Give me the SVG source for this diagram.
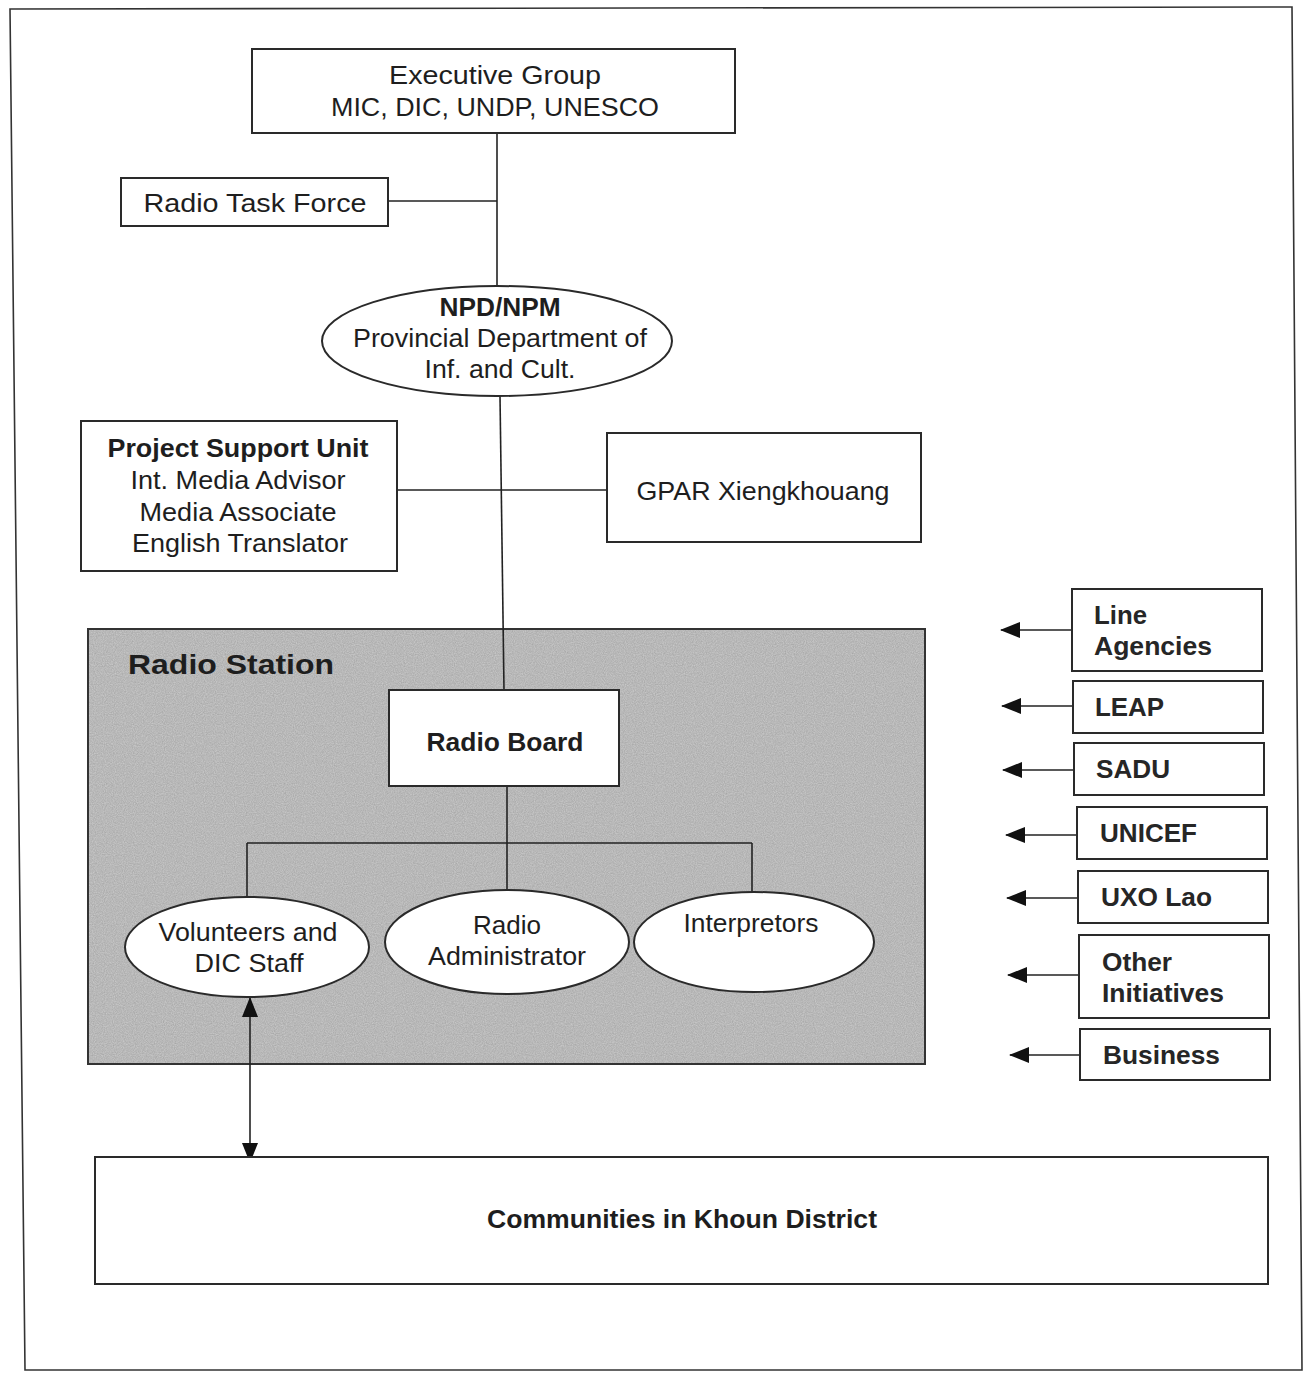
<svg xmlns="http://www.w3.org/2000/svg" width="1303" height="1373" viewBox="0 0 1303 1373">
<style>
  .box { fill: #ffffff; stroke: #2a2a2a; stroke-width: 2; }
  .frame { fill: none; stroke: #333333; stroke-width: 1.6; }
  .ln { stroke: #222222; stroke-width: 1.6; fill: none; }
  .t { font-family: "Liberation Sans", Arial, sans-serif; font-size: 25px; fill: #1e1e1e; text-anchor: middle; }
  .b { font-weight: bold; }
  .r { font-family: "Liberation Sans", Arial, sans-serif; font-size: 25px; font-weight: bold; fill: #262626; }
</style>
<defs>
  <marker id="ah" viewBox="0 0 20 16" refX="19" refY="8" markerWidth="20" markerHeight="16" markerUnits="userSpaceOnUse" orient="auto-start-reverse">
    <path d="M0,0 L20,8 L0,16 Z" fill="#111111"/>
  </marker>
  <filter id="noise" x="0" y="0" width="100%" height="100%">
    <feTurbulence type="fractalNoise" baseFrequency="0.9" numOctaves="2" seed="3" result="n"/>
    <feColorMatrix in="n" type="matrix" values="0 0 0 0 0  0 0 0 0 0  0 0 0 0 0  0 0 0 0.5 0" result="a"/>
    <feComposite in="a" in2="SourceGraphic" operator="in"/>
  </filter>
</defs>
<rect width="1303" height="1373" fill="#ffffff"/>

<g id="frame">
  <path class="frame" d="M10,9 L1292,7 L1302,1370 L25,1370 Z"/>
</g>

<g id="radio-station">
  <rect x="88" y="629" width="837" height="435" fill="#cdcdcd" stroke="#333" stroke-width="2"/>
  <rect x="89" y="630" width="835" height="433" fill="#ffffff" filter="url(#noise)" opacity="0.4"/>
  <text class="t b" x="128" y="674" style="text-anchor:start;font-size:28px" textLength="206" lengthAdjust="spacingAndGlyphs">Radio Station</text>
</g>

<g id="connectors">
  <line class="ln" x1="497" y1="133" x2="497" y2="287"/>
  <line class="ln" x1="388" y1="201" x2="497" y2="201"/>
  <line class="ln" x1="500" y1="396" x2="504" y2="690"/>
  <line class="ln" x1="397" y1="490" x2="607" y2="490"/>
  <line class="ln" x1="507" y1="786" x2="507" y2="891"/>
  <line class="ln" x1="247" y1="843" x2="752" y2="843"/>
  <line class="ln" x1="247" y1="843" x2="247" y2="898"/>
  <line class="ln" x1="752" y1="843" x2="752" y2="893"/>
  <line class="ln" x1="250" y1="998" x2="250" y2="1162" marker-start="url(#ah)" marker-end="url(#ah)"/>
  <line class="ln" x1="1072" y1="630" x2="1001" y2="630" marker-end="url(#ah)"/>
  <line class="ln" x1="1073" y1="706" x2="1002" y2="706" marker-end="url(#ah)"/>
  <line class="ln" x1="1074" y1="770" x2="1003" y2="770" marker-end="url(#ah)"/>
  <line class="ln" x1="1077" y1="835" x2="1006" y2="835" marker-end="url(#ah)"/>
  <line class="ln" x1="1078" y1="898" x2="1007" y2="898" marker-end="url(#ah)"/>
  <line class="ln" x1="1079" y1="975" x2="1008" y2="975" marker-end="url(#ah)"/>
  <line class="ln" x1="1080" y1="1055" x2="1010" y2="1055" marker-end="url(#ah)"/>
</g>

<g id="executive-group">
  <rect class="box" x="252" y="49" width="483" height="84"/>
  <text class="t" x="495" y="84" textLength="212" lengthAdjust="spacingAndGlyphs">Executive Group</text>
  <text class="t" x="495" y="116" textLength="328" lengthAdjust="spacingAndGlyphs">MIC, DIC, UNDP, UNESCO</text>
</g>

<g id="radio-task-force">
  <rect class="box" x="121" y="178" width="267" height="48"/>
  <text class="t" x="255" y="212" textLength="223" lengthAdjust="spacingAndGlyphs">Radio Task Force</text>
</g>

<g id="npd-npm">
  <ellipse class="box" cx="497" cy="341" rx="175" ry="55"/>
  <text class="t b" x="500" y="316" textLength="121" lengthAdjust="spacingAndGlyphs">NPD/NPM</text>
  <text class="t" x="500" y="347" textLength="294" lengthAdjust="spacingAndGlyphs">Provincial Department of</text>
  <text class="t" x="500" y="378" textLength="151" lengthAdjust="spacingAndGlyphs">Inf. and Cult.</text>
</g>

<g id="project-support-unit">
  <rect class="box" x="81" y="421" width="316" height="150"/>
  <text class="t b" x="238" y="457" textLength="261" lengthAdjust="spacingAndGlyphs">Project Support Unit</text>
  <text class="t" x="238" y="489" textLength="215" lengthAdjust="spacingAndGlyphs">Int. Media Advisor</text>
  <text class="t" x="238" y="521" textLength="197" lengthAdjust="spacingAndGlyphs">Media Associate</text>
  <text class="t" x="240" y="552" textLength="216" lengthAdjust="spacingAndGlyphs">English Translator</text>
</g>

<g id="gpar">
  <rect class="box" x="607" y="433" width="314" height="109"/>
  <text class="t" x="763" y="500" textLength="253" lengthAdjust="spacingAndGlyphs">GPAR Xiengkhouang</text>
</g>

<g id="radio-board">
  <rect class="box" x="389" y="690" width="230" height="96"/>
  <text class="t" x="505" y="751" style="font-weight:600" textLength="157" lengthAdjust="spacingAndGlyphs">Radio Board</text>
</g>

<g id="volunteers">
  <ellipse class="box" cx="247" cy="947" rx="122" ry="50"/>
  <text class="t" x="248" y="941" textLength="179" lengthAdjust="spacingAndGlyphs">Volunteers and</text>
  <text class="t" x="249" y="972" textLength="109" lengthAdjust="spacingAndGlyphs">DIC Staff</text>
</g>

<g id="radio-administrator">
  <ellipse class="box" cx="507" cy="942" rx="122" ry="52"/>
  <text class="t" x="507" y="934" textLength="68" lengthAdjust="spacingAndGlyphs">Radio</text>
  <text class="t" x="507" y="965" textLength="158" lengthAdjust="spacingAndGlyphs">Administrator</text>
</g>

<g id="interpretors">
  <ellipse class="box" cx="754" cy="942" rx="120" ry="50"/>
  <text class="t" x="751" y="932" textLength="135" lengthAdjust="spacingAndGlyphs">Interpretors</text>
</g>

<g id="communities">
  <rect class="box" x="95" y="1157" width="1173" height="127"/>
  <text class="t" x="682" y="1228" style="font-weight:600" textLength="390" lengthAdjust="spacingAndGlyphs">Communities in Khoun District</text>
</g>

<g id="line-agencies">
  <rect class="box" x="1072" y="589" width="190" height="82"/>
  <text class="r" x="1094" y="624" textLength="53" lengthAdjust="spacingAndGlyphs">Line</text>
  <text class="r" x="1094" y="655" textLength="118" lengthAdjust="spacingAndGlyphs">Agencies</text>
</g>
<g id="leap">
  <rect class="box" x="1073" y="681" width="190" height="52"/>
  <text class="r" x="1095" y="716" textLength="69" lengthAdjust="spacingAndGlyphs">LEAP</text>
</g>
<g id="sadu">
  <rect class="box" x="1074" y="743" width="190" height="52"/>
  <text class="r" x="1096" y="778" textLength="74" lengthAdjust="spacingAndGlyphs">SADU</text>
</g>
<g id="unicef">
  <rect class="box" x="1077" y="807" width="190" height="52"/>
  <text class="r" x="1100" y="842" textLength="97" lengthAdjust="spacingAndGlyphs">UNICEF</text>
</g>
<g id="uxo-lao">
  <rect class="box" x="1078" y="871" width="190" height="52"/>
  <text class="r" x="1101" y="906" textLength="111" lengthAdjust="spacingAndGlyphs">UXO Lao</text>
</g>
<g id="other-initiatives">
  <rect class="box" x="1079" y="935" width="190" height="83"/>
  <text class="r" x="1102" y="971" textLength="70" lengthAdjust="spacingAndGlyphs">Other</text>
  <text class="r" x="1102" y="1002" textLength="122" lengthAdjust="spacingAndGlyphs">Initiatives</text>
</g>
<g id="business">
  <rect class="box" x="1080" y="1029" width="190" height="51"/>
  <text class="r" x="1103" y="1064" textLength="117" lengthAdjust="spacingAndGlyphs">Business</text>
</g>
</svg>
